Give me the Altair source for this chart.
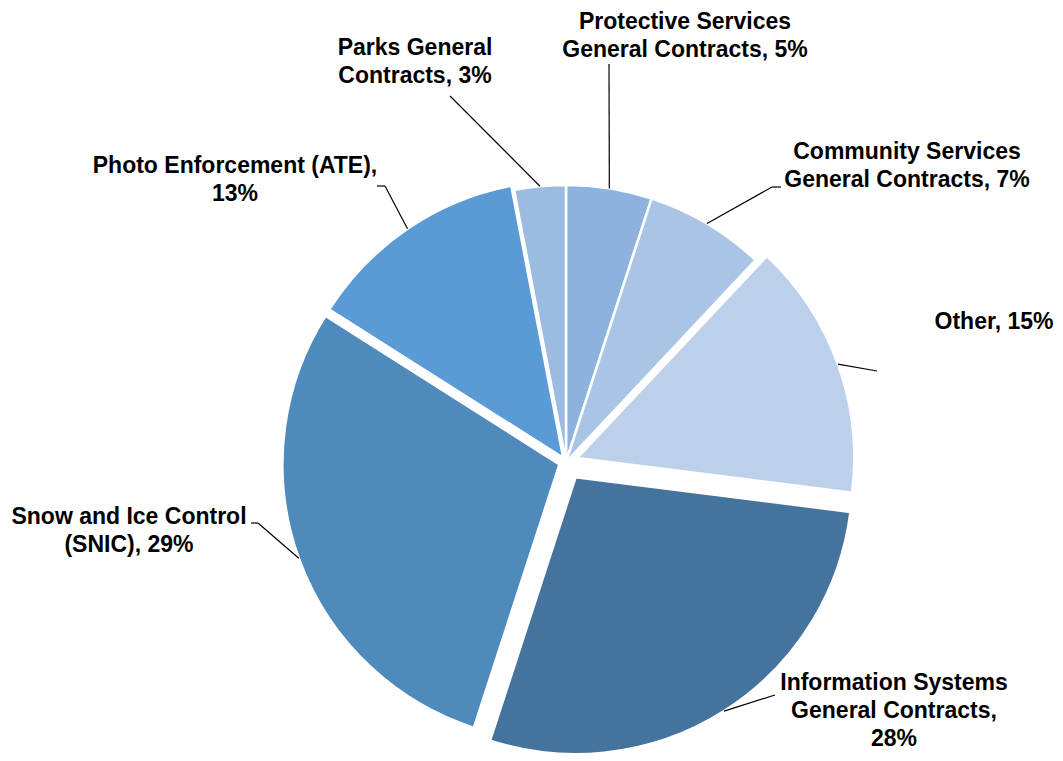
import altair as alt
import pandas as pd

# ---- data (clockwise from 12 o'clock) ----
categories = [
    "Protective Services General Contracts",
    "Community Services General Contracts",
    "Other",
    "Information Systems General Contracts",
    "Snow and Ice Control (SNIC)",
    "Photo Enforcement (ATE)",
    "Parks General Contracts",
]
values = [5, 7, 15, 28, 29, 13, 3]
label_texts = [
    "Protective Services\nGeneral Contracts, 5%",
    "Community Services\nGeneral Contracts, 7%",
    "Other, 15%",
    "Information Systems\nGeneral Contracts,\n28%",
    "Snow and Ice Control\n(SNIC), 29%",
    "Photo Enforcement (ATE),\n13%",
    "Parks General\nContracts, 3%",
]
colors = ["#8DB2DE", "#AAC4E6", "#BCD0EB", "#44749E", "#4F8ABD", "#5B9BD5", "#9BBBE0"]

# ---- layout (chart coordinates, page minus 8px margin) ----
M = 8
CX, CY, R = 566 - M, 462 - M, 277
explode = [0, 0, 12, 18, 7, 5, 0]
label_x = [685, 907, 994, 894, 129, 235, 415]
label_y = [22, 152, 322, 683, 517, 166, 48]   # first-line centres
elbow_x = [609, 772, 877, 775, 258, 385, 450]
elbow_y = [64, 187, 371, 695, 523, 186, 96]
end_x = [609, 781, 877, 775, 251, 377, 450]
end_y = [64, 187, 371, 695, 523, 186, 96]

df = pd.DataFrame({
    "order": list(range(len(categories))),
    "category": categories,
    "value": values,
    "label": label_texts,
    "explode": explode,
    "lx": [v - M for v in label_x],
    "ly": [v - M for v in label_y],
    "ex": [v - M for v in elbow_x],
    "ey": [v - M for v in elbow_y],
    "tx": [v - M for v in end_x],
    "ty": [v - M for v in end_y],
})

base = (
    alt.Chart(df)
    .transform_window(cum="sum(value)", sort=[alt.SortField("order")], frame=[None, 0])
    .transform_joinaggregate(total="sum(value)")
    .transform_calculate(
        t1="datum.cum / datum.total * 2 * PI",
        t0="(datum.cum - datum.value) / datum.total * 2 * PI",
    )
    .transform_calculate(mid="(datum.t0 + datum.t1) / 2")
    .transform_calculate(
        cx=f"{CX} + datum.explode * sin(datum.mid)",
        cy=f"{CY} - datum.explode * cos(datum.mid)",
    )
    .transform_calculate(
        ax=f"datum.cx + {R} * sin(datum.mid)",
        ay=f"datum.cy - {R} * cos(datum.mid)",
    )
)

arcs = base.mark_arc(outerRadius=R, stroke="white", strokeWidth=2.5).encode(
    x=alt.X("cx:Q", scale=None),
    y=alt.Y("cy:Q", scale=None),
    theta=alt.Theta("t0:Q", scale=None),
    theta2=alt.Theta2("t1:Q"),
    color=alt.Color("category:N", scale=alt.Scale(domain=categories, range=colors), legend=None),
)

lead1 = base.mark_rule(color="#000000", strokeWidth=1.2).encode(
    x=alt.X("ax:Q", scale=None),
    y=alt.Y("ay:Q", scale=None),
    x2="ex:Q",
    y2="ey:Q",
)
lead2 = base.mark_rule(color="#000000", strokeWidth=1.2).encode(
    x=alt.X("ex:Q", scale=None),
    y=alt.Y("ey:Q", scale=None),
    x2="tx:Q",
    y2="ty:Q",
)

texts = base.mark_text(
    font="Liberation Sans",
    fontSize=23,
    fontWeight="bold",
    lineBreak="\n",
    lineHeight=28,
    align="center",
    baseline="middle",
    color="#000000",
).encode(
    x=alt.X("lx:Q", scale=None),
    y=alt.Y("ly:Q", scale=None),
    text="label:N",
)

chart = (
    alt.layer(arcs, lead1, lead2, texts)
    .properties(width=1047, height=745, autosize="none", padding=0, background="white")
    .configure_view(stroke=None)
)

chart.save("out.html", embed_options={"renderer": "svg", "actions": False})
